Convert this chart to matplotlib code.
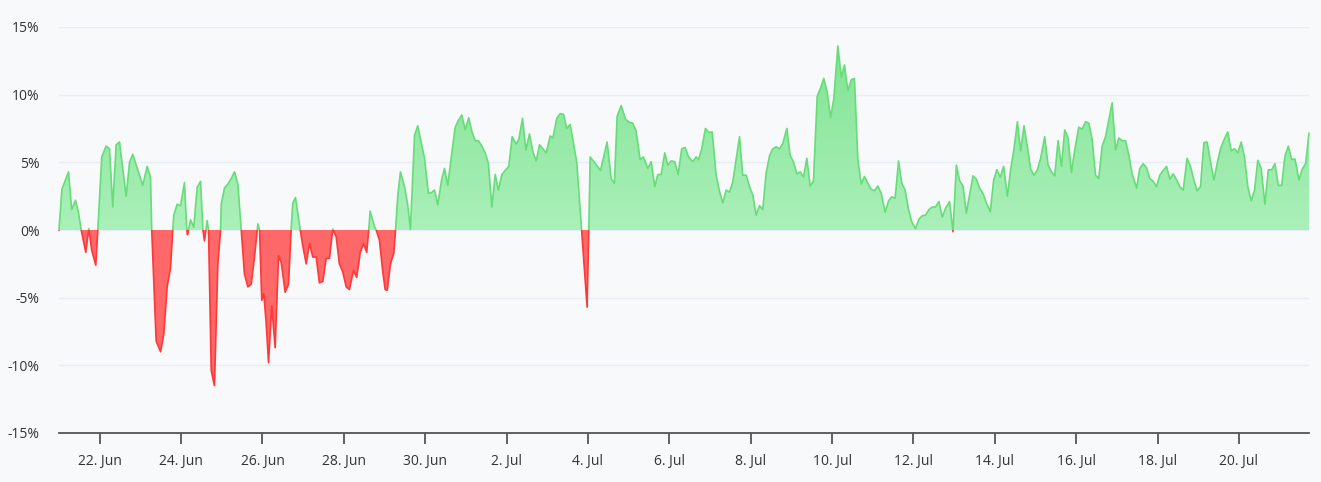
import numpy as np
import pandas as pd
import matplotlib
matplotlib.use('Agg')
import matplotlib.pyplot as plt
import matplotlib.dates as mdates
from matplotlib.path import Path
from matplotlib.patches import PathPatch, Rectangle
from matplotlib.colors import LinearSegmentedColormap

plt.rcParams['font.family'] = ['Open Sans', 'DejaVu Sans']

start = pd.Timestamp('2023-06-21 00:00')

# hours since start
hours = [
    0.0, 1.7, 5.6, 7.5, 9.7, 11.5, 13.1, 15.8, 17.6, 19.3, 21.7, 22.9,
    25.2, 27.8, 29.8, 31.7, 33.7, 35.7, 39.6, 41.6, 43.5, 49.4, 52.0, 54.0,
    54.7, 57.3, 59.9, 61.8, 63.8, 65.8, 67.1, 67.7, 69.7, 71.7, 74.0, 75.4,
    75.8, 77.6, 79.5, 81.5, 83.5, 84.9, 85.8, 87.4, 88.2, 89.8, 91.7, 93.7,
    95.3, 95.7, 97.6, 99.6, 101.6, 103.5, 105.5, 107.5, 109.4, 111.4, 113.4, 115.3,
    117.3, 118.3, 119.6, 120.8, 122.2, 123.6, 125.5, 127.5, 129.5, 131.1, 133.4, 135.4,
    136.9, 137.9, 139.5, 142.3, 143.8, 145.8, 147.8, 149.7, 151.7, 153.6, 155.6, 157.6,
    159.5, 161.5, 163.5, 165.4, 167.4, 169.4, 171.3, 173.7, 175.6, 177.7, 179.6, 181.5,
    182.7, 183.5, 186.1, 187.1, 189.0, 191.0, 192.4, 193.6, 195.5, 197.5, 198.5, 199.8,
    201.4, 203.8, 205.7, 207.3, 209.7, 211.6, 215.6, 217.9, 219.5, 221.5, 223.4, 225.8,
    227.4, 229.3, 231.7, 233.7, 235.6, 237.6, 239.6, 241.7, 243.5, 245.5, 247.4, 249.4,
    251.4, 253.3, 255.3, 257.3, 259.2, 261.2, 263.2, 265.3, 267.3, 269.7, 271.2, 273.4,
    275.4, 277.5, 279.5, 281.5, 283.4, 287.4, 289.7, 291.3, 293.6, 295.6, 297.6, 299.5,
    301.5, 303.5, 305.4, 307.0, 308.2, 311.5, 312.5, 313.3, 316.4, 319.4, 323.3, 325.7,
    327.6, 329.2, 331.6, 334.1, 336.5, 338.4, 340.4, 342.8, 344.7, 347.3, 349.3, 351.4,
    353.2, 355.2, 357.3, 359.1, 361.1, 363.2, 365.2, 367.3, 369.3, 371.3, 373.8, 375.8,
    377.2, 379.1, 381.3, 383.3, 385.3, 387.6, 389.6, 391.5, 393.5, 395.5, 397.4, 399.4,
    401.4, 403.3, 405.3, 407.3, 409.2, 411.2, 413.2, 415.1, 417.1, 419.1, 421.0, 423.0,
    425.0, 426.9, 429.3, 431.3, 433.2, 435.2, 437.2, 439.1, 441.1, 443.1, 445.0, 447.2,
    449.2, 451.1, 453.1, 455.1, 457.0, 459.4, 461.4, 463.3, 465.3, 467.3, 469.2, 471.2,
    473.2, 475.1, 477.1, 479.1, 481.0, 483.0, 485.0, 487.3, 489.3, 491.2, 493.2, 495.2,
    497.1, 499.1, 501.1, 503.0, 505.2, 507.2, 509.2, 511.1, 513.1, 515.1, 517.0, 519.0,
    521.0, 522.9, 525.3, 527.3, 529.3, 531.2, 533.2, 535.2, 537.1, 539.1, 541.1, 543.0,
    545.0, 547.0, 549.3, 551.3, 553.2, 555.2, 557.2, 559.4, 561.3, 563.3, 565.3, 567.2,
    569.2, 571.2, 573.1, 575.1, 577.1, 579.0, 581.4, 583.4, 585.4, 587.3, 589.3, 591.3,
    593.2, 595.2, 597.2, 599.1, 601.5, 603.5, 605.5, 607.4, 609.4, 611.4, 613.3, 615.3,
    617.3, 619.2, 621.2, 623.2, 625.1, 627.1, 629.1, 631.0, 633.0, 635.6, 637.5, 639.5,
    641.5, 643.4, 645.4, 647.4, 649.3, 651.3, 653.3, 655.2, 657.2, 659.2, 661.1, 663.1,
    665.4, 667.4, 669.4, 671.3, 673.3, 675.3, 677.2, 679.2, 681.2, 683.1, 685.1, 687.1,
    689.4, 691.4, 693.4, 695.3, 697.3, 699.3, 701.2, 703.2, 705.2, 707.1, 709.1, 711.3,
    713.3, 715.3, 717.2, 719.2, 721.2, 723.1, 725.1, 727.1, 729.0, 731.4, 733.3, 735.3,
    737.3,
]

# percent change
change = [
    0.0, 3.0, 4.3, 1.5, 2.2, 1.3, 0.0, -1.65, 0.1, -1.5, -2.6, 0.0,
    5.4, 6.2, 6.0, 1.7, 6.3, 6.5, 2.5, 5.0, 5.6, 3.3, 4.7, 3.9,
    0.0, -8.2, -9.0, -7.7, -4.2, -2.8, 0.0, 1.1, 1.9, 1.8, 3.5, 0.0,
    -0.35, 0.75, 0.2, 3.15, 3.6, 0.0, -0.8, 0.7, 0.0, -10.4, -11.5, -2.5,
    0.0, 1.9, 3.1, 3.4, 3.8, 4.3, 3.4, 0.0, -3.25, -4.2, -4.0, -2.0,
    0.45, 0.0, -5.2, -4.7, -6.9, -9.8, -5.6, -8.7, -1.9, -2.4, -4.6, -4.0,
    0.0, 2.0, 2.4, 0.0, -1.16, -2.5, -1.0, -2.0, -2.0, -3.9, -3.8, -2.1,
    -2.1, 0.07, -0.5, -2.5, -3.1, -4.2, -4.4, -3.0, -3.5, -1.65, -1.0, -1.65,
    0.0, 1.4, 0.25, 0.0, -0.74, -3.1, -4.4, -4.45, -2.5, -1.7, 0.0, 2.5,
    4.3, 3.2, 1.85, 0.05, 7.0, 7.7, 5.3, 2.7, 2.75, 2.95, 1.85, 3.8,
    4.55, 3.3, 5.7, 7.6, 8.1, 8.5, 7.4, 8.3, 7.3, 6.6, 6.6, 6.2,
    5.7, 4.9, 1.7, 4.1, 2.95, 4.1, 4.4, 4.7, 6.9, 6.35, 6.7, 8.25,
    5.9, 7.1, 5.8, 5.1, 6.3, 5.7, 6.95, 6.8, 8.25, 8.6, 8.55, 7.5,
    7.8, 6.4, 5.0, 2.2, 0.0, -5.7, 0.0, 5.4, 4.9, 4.4, 6.5, 3.8,
    3.45, 8.4, 9.2, 8.2, 7.95, 7.9, 7.3, 5.2, 5.4, 4.55, 5.05, 3.2,
    4.1, 4.1, 5.7, 4.8, 5.1, 5.05, 4.1, 6.0, 6.1, 5.4, 5.05, 5.4,
    5.2, 6.0, 7.5, 7.2, 7.25, 4.05, 2.85, 2.0, 2.95, 2.8, 3.55, 5.2,
    6.9, 4.05, 4.05, 3.2, 2.6, 1.1, 1.8, 1.5, 4.2, 5.5, 6.0, 6.15,
    6.0, 6.4, 7.5, 5.5, 5.05, 4.15, 4.3, 3.9, 5.3, 3.25, 3.6, 9.85,
    10.5, 11.2, 10.2, 8.3, 9.7, 13.6, 11.3, 12.2, 10.3, 11.1, 11.2, 5.2,
    3.4, 3.95, 3.45, 3.0, 2.9, 3.25, 2.7, 1.3, 2.15, 2.45, 2.35, 5.1,
    3.45, 2.95, 1.5, 0.6, 0.1, 0.8, 1.05, 1.1, 1.5, 1.7, 1.7, 2.1,
    0.95, 1.6, 2.1, -0.12, 4.8, 3.65, 3.25, 1.25, 2.6, 4.0, 3.75, 3.1,
    2.7, 2.0, 1.35, 3.7, 4.45, 3.9, 4.7, 2.5, 4.45, 6.0, 8.0, 5.85,
    7.7, 6.15, 4.5, 4.05, 4.45, 5.3, 6.9, 4.8, 4.3, 4.0, 6.6, 4.7,
    7.4, 6.8, 4.25, 5.9, 7.6, 7.45, 8.0, 7.9, 6.7, 4.05, 3.8, 6.2,
    6.9, 8.1, 9.4, 5.9, 6.8, 6.6, 6.6, 5.55, 4.15, 3.1, 4.55, 4.9,
    4.6, 3.8, 3.6, 3.2, 4.05, 4.4, 4.7, 3.75, 4.15, 3.7, 3.2, 2.95,
    5.3, 4.7, 3.7, 2.9, 3.2, 6.45, 6.5, 5.05, 3.7, 4.9, 6.0, 6.65,
    7.25, 5.85, 6.0, 5.7, 6.5, 5.35, 3.2, 2.15, 2.95, 5.15, 4.55, 1.9,
    4.45, 4.45, 4.9, 3.3, 3.3, 5.45, 6.2, 5.2, 5.25, 3.7, 4.5, 4.9,
    7.15,
]

y_ticks = [-15, -10, -5, 0, 5, 10, 15]
tick_days = pd.date_range('2023-06-22', '2023-07-20', freq='2D')

t = mdates.date2num(start + pd.to_timedelta(hours, unit='h'))
v = np.array(change)

fig = plt.figure(figsize=(13.21, 4.82), dpi=100, facecolor='#f8f9fb')
ax = fig.add_axes([59 / 1321, 49 / 482, 1250 / 1321, 406 / 482])
ax.set_facecolor('#f8f9fb')

x0, x1 = t[0], t[-1]

# green area with a soft vertical gradient
pos = ax.fill_between(t, 0, v, where=v >= 0, interpolate=True,
                      facecolor='none', edgecolor='none')
clip = PathPatch(Path.make_compound_path(*pos.get_paths()),
                 transform=ax.transData, facecolor='none', edgecolor='none')
ax.add_patch(clip)
cmap = LinearSegmentedColormap.from_list('g', ['#abf0ba', '#80e392'])
grad = np.linspace(0, 1, 256).reshape(-1, 1)
im = ax.imshow(grad, extent=[x0, x1, 0, 14], origin='lower', aspect='auto',
               cmap=cmap, zorder=2, interpolation='bilinear')
im.set_clip_path(clip)

ax.fill_between(t, 0, v, where=v <= 0, interpolate=True,
                facecolor='#ff6868', edgecolor='none', zorder=2)

# outline: green above zero, red below
up = Rectangle((x0 - 5, 0), (x1 - x0) + 10, 50, transform=ax.transData)
down = Rectangle((x0 - 5, -50), (x1 - x0) + 10, 50, transform=ax.transData)
lg, = ax.plot(t, v, color='#66dd78', lw=1.2, zorder=3)
lg.set_clip_path(up)
lr, = ax.plot(t, v, color='#ff3838', lw=1.2, zorder=3)
lr.set_clip_path(down)

ax.set_xlim(x0, x1)
ax.set_ylim(-15, 15)
ax.set_yticks(y_ticks)
ax.set_yticklabels([f'{y}%' for y in y_ticks])
ax.set_xticks(mdates.date2num(tick_days))
ax.set_xticklabels([f'{d.day}. {d.strftime("%b")}' for d in tick_days])

ax.grid(axis='y', color='#e6edf6', lw=1)
ax.set_axisbelow(True)
for s in ['top', 'right', 'left']:
    ax.spines[s].set_visible(False)
ax.spines['bottom'].set_color('#555555')
ax.spines['bottom'].set_linewidth(1.3)
ax.spines['bottom'].set_zorder(4)

ax.tick_params(axis='x', length=8, width=1.3, color='#555555', pad=7,
               labelsize=10, labelcolor='#333333')
ax.tick_params(axis='y', length=0, pad=14, labelsize=10, labelcolor='#333333')

fig.savefig('out.png', dpi=100, facecolor=fig.get_facecolor())
